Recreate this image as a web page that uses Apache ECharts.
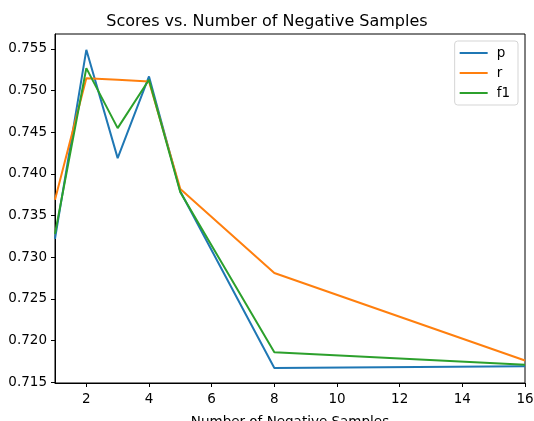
<!DOCTYPE html>
<html>
<head>
<meta charset="utf-8">
<script src="https://cdn.jsdelivr.net/npm/echarts@6/dist/echarts.min.js"></script>
<style>html,body{margin:0;padding:0;background:#fff}#c{width:534px;height:421px}</style>
</head>
<body>
<div id="c"></div>
<script>
var xValues = [1, 2, 3, 4, 5, 8, 16];
var pValues = [0.7322, 0.7549, 0.7419, 0.7517, 0.7379, 0.7167, 0.7169];
var rValues = [0.7369, 0.7515, 0.7513, 0.7511, 0.7382, 0.7281, 0.7176];
var f1Values = [0.7328, 0.7527, 0.7455, 0.7513, 0.7378, 0.7186, 0.7171];
var xTicks = [2, 4, 6, 8, 10, 12, 14, 16];
var yTicks = [0.715, 0.720, 0.725, 0.730, 0.735, 0.740, 0.745, 0.750, 0.755];

function pairs(v) { return xValues.map(function (x, i) { return [x, v[i]]; }); }
var font = 'DejaVu Sans';
var chart = echarts.init(document.getElementById('c'));
function line(name, data, color) {
  return { name: name, type: 'line', data: pairs(data), showSymbol: false, symbol: 'none',
    lineStyle: { color: color, width: 2 }, itemStyle: { color: color }, animation: false };
}
chart.setOption({
  animation: false,
  title: { text: 'Scores vs. Number of Negative Samples', left: 'center', top: 9,
    textStyle: { fontFamily: font, fontSize: 16, fontWeight: 'normal', color: '#000' } },
  grid: { left: 55, right: 9, top: 34, bottom: 38, show: true, borderColor: '#000', borderWidth: 1,
    outerBoundsMode: 'none', containLabel: false },
  legend: { orient: 'vertical', right: 16, top: 41, padding: [5, 8, 5, 5], itemGap: 6,
    itemWidth: 28, itemHeight: 14, borderColor: '#d5d5d5', borderWidth: 1, borderRadius: 3,
    icon: 'path://M0,6 L28,6 L28,8 L0,8 Z',
    textStyle: { fontFamily: font, fontSize: 13.5, color: '#000', padding: [0, 0, 0, 4] },
    data: ['p', 'r', 'f1'] },
  xAxis: { type: 'value', min: 1, max: 16,
    name: 'Number of Negative Samples', nameLocation: 'middle', nameGap: 32,
    nameTextStyle: { fontFamily: font, fontSize: 13.5, color: '#000' },
    axisLine: { show: true, lineStyle: { color: '#000' } },
    axisTick: { show: true, length: 4, lineStyle: { color: '#000' }, customValues: xTicks },
    axisLabel: { fontFamily: font, fontSize: 13.5, color: '#000', margin: 9, customValues: xTicks },
    splitLine: { show: false } },
  yAxis: { type: 'value', min: 0.7149, max: 0.7568,
    axisLine: { show: true, lineStyle: { color: '#000' } },
    axisTick: { show: true, length: 4, lineStyle: { color: '#000' }, customValues: yTicks },
    axisLabel: { fontFamily: font, fontSize: 13.5, color: '#000', margin: 8, customValues: yTicks,
      formatter: function (v) { return v.toFixed(3); } },
    splitLine: { show: false } },
  series: [ line('p', pValues, '#1f77b4'), line('r', rValues, '#ff7f0e'), line('f1', f1Values, '#2ca02c') ]
});
</script>
</body>
</html>
